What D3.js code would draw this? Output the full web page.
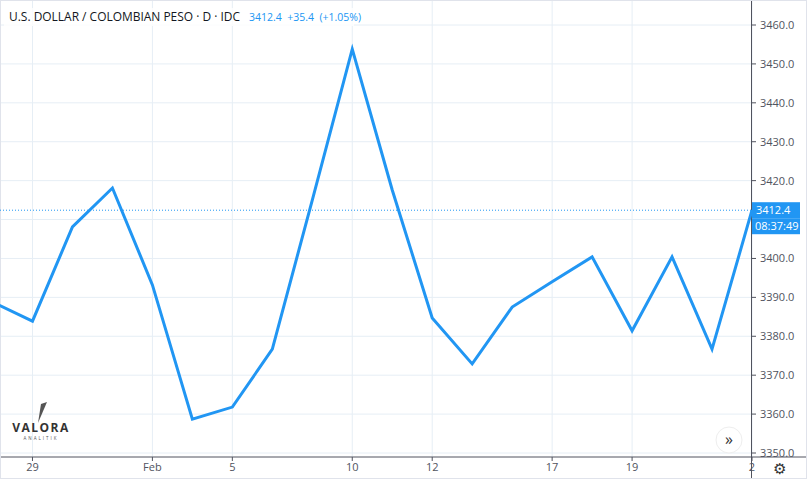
<!DOCTYPE html><html><head><meta charset="utf-8"><script src="https://cdn.jsdelivr.net/npm/d3@7"></script>
<style>body{margin:0;background:#fff}svg{font-family:"Open Sans",Roboto,sans-serif}</style></head><body><svg id="c" width="807" height="479"></svg>
<script>
const dates=["28","29","30","31","Feb","4","5","6","7","10","11","12","13","14","17","18","19","20","21","24"];
const values=[3388.8,3383.9,3408.1,3418.1,3393.2,3358.7,3361.8,3376.7,3415.0,3453.8,3417.6,3384.7,3372.9,3387.5,3394.0,3400.4,3381.4,3400.4,3376.7,3412.4];
const tickLabels=["29","Feb","5","10","12","17","19","2"];
const yTicks=[3350,3360,3370,3380,3390,3400,3410,3420,3430,3440,3450,3460];
const last=3412.4;
const svg=d3.select("#c");
const W=751,H=457;
const x=d3.scalePoint().domain(d3.range(dates.length)).range([-7.5,752]);
const y=d3.scaleLinear().domain([3350,3460]).range([453,25]);
svg.append("defs").append("clipPath").attr("id","yc").append("rect").attr("x",W).attr("y",0).attr("width",60).attr("height",H);
const g=svg.append("g");
g.selectAll(".hg").data(yTicks).join("line").attr("x1",0).attr("x2",W).attr("y1",d=>y(d)).attr("y2",d=>y(d)).attr("stroke","#e6eef5");
const tickIdx=tickLabels.map(t=>dates.indexOf(t==="2"?"24":t));
g.selectAll(".vg").data(tickIdx).join("line").attr("x1",d=>x(d)).attr("x2",d=>x(d)).attr("y1",0).attr("y2",H).attr("stroke","#e6eef5");
svg.append("line").attr("x1",0).attr("x2",807).attr("y1",H).attr("y2",H).attr("stroke","#50535e");
svg.append("line").attr("x1",W+0.5).attr("x2",W+0.5).attr("y1",0).attr("y2",479).attr("stroke","#50535e");
svg.append("rect").attr("x",0.5).attr("y",0.5).attr("width",806).attr("height",478).attr("fill","none").attr("stroke","#e0e3eb");
const shown=yTicks.filter(d=>Math.abs(y(d)-y(last))>14);
const yl=svg.append("g").attr("clip-path","url(#yc)");
yl.selectAll(".yl").data(shown).join("text").attr("x",W+9).attr("y",d=>y(d)+4).text(d=>d.toFixed(1)).attr("font-size",11).attr("fill","#50535e");
svg.selectAll(".yt").data(yTicks).join("line").attr("x1",W).attr("x2",W+5).attr("y1",d=>y(d)).attr("y2",d=>y(d)).attr("stroke","#50535e");
svg.selectAll(".xl").data(tickIdx).join("text").attr("x",(d)=>x(d)).attr("y",471).attr("text-anchor","middle").text((d,i)=>tickLabels[i]).attr("font-size",11).attr("fill","#50535e");
svg.selectAll(".xt").data(tickIdx).join("line").attr("x1",d=>x(d)).attr("x2",d=>x(d)).attr("y1",H).attr("y2",H+4).attr("stroke","#50535e");
svg.append("line").attr("x1",0).attr("x2",W).attr("y1",y(last)).attr("y2",y(last)).attr("stroke","#2196f3").attr("stroke-dasharray","1,2");
svg.append("path").datum(values).attr("fill","none").attr("stroke","#2196f3").attr("stroke-width",3)
 .attr("d",d3.line().x((d,i)=>x(i)).y(d=>y(d)));
svg.append("rect").attr("x",W+1).attr("y",y(last)-8).attr("width",48).attr("height",16).attr("fill","#2196f3");
svg.append("text").attr("x",W+5).attr("y",y(last)+4).text("3412.4").attr("font-size",11).attr("fill","#fff");
svg.append("rect").attr("x",W+1).attr("y",y(last)+8).attr("width",48).attr("height",16).attr("fill","#2196f3");
svg.append("text").attr("x",W+4).attr("y",y(last)+20).text("08:37:49").attr("font-size",11).attr("fill","#fff");
svg.append("rect").attr("x",4).attr("y",8).attr("width",350).attr("height",18).attr("fill","#fff").attr("opacity",0.8);
svg.append("text").attr("x",9).attr("y",21).text("U.S. DOLLAR / COLOMBIAN PESO · D · IDC").attr("font-size",12).attr("textLength",231).attr("lengthAdjust","spacingAndGlyphs").attr("fill","#131722");
svg.append("text").attr("x",249).attr("y",21).text("3412.4  +35.4  (+1.05%)").attr("font-size",10.5).attr("fill","#2196f3").attr("xml:space","preserve");
svg.append("path").attr("d","M41,404 L47,402 L38,423 Z").attr("fill","#555");
svg.append("text").attr("x",41).attr("y",432).attr("text-anchor","middle").text("VALORA").attr("font-size",12).attr("font-weight","bold").attr("letter-spacing",1.5).attr("fill","#333");
svg.append("text").attr("x",41).attr("y",440).attr("text-anchor","middle").text("ANALITIK").attr("font-size",4.5).attr("letter-spacing",2).attr("fill","#555");
svg.append("circle").attr("cx",729).attr("cy",440).attr("r",13).attr("fill","#fff").attr("stroke","#eee");
svg.append("text").attr("x",729).attr("y",445).attr("text-anchor","middle").text("»").attr("font-size",16).attr("fill","#333");
svg.append("text").attr("x",779).attr("y",474).attr("text-anchor","middle").text("⚙").attr("font-size",15).attr("fill","#333");
</script></body></html>
